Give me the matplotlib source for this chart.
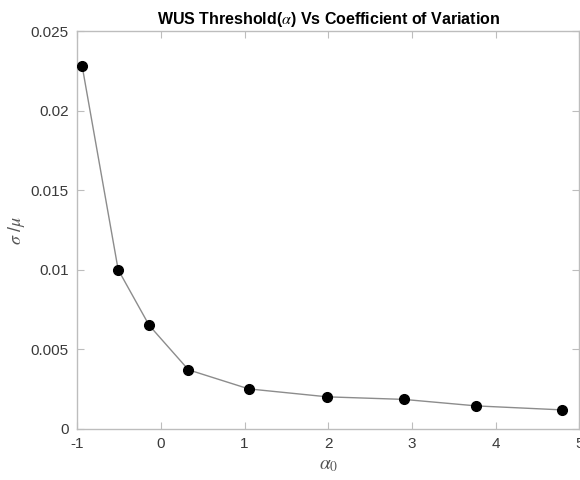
import numpy as np
import matplotlib
matplotlib.use("Agg")
import matplotlib.pyplot as plt

# donnees
alpha0 = [-0.94, -0.51, -0.14, 0.33, 1.05, 1.99, 2.90, 3.77, 4.79]
cv = [0.0228, 0.0100, 0.0065, 0.0037, 0.0025, 0.0020, 0.00184, 0.00143, 0.00118]
xticks = [-1, 0, 1, 2, 3, 4, 5]
yticks = [0, 0.005, 0.01, 0.015, 0.02, 0.025]
ytick_labels = ["0", "0.005", "0.01", "0.015", "0.02", "0.025"]

plt.rcParams['font.family'] = ['Liberation Sans', 'DejaVu Sans']
plt.rcParams['mathtext.fontset'] = 'stix'

fig = plt.figure(figsize=(5.8, 4.8), dpi=100)
ax = fig.add_axes([0.133, 0.107, 0.866, 0.828])

ax.plot(alpha0, cv, '-', color='#8c8c8c', linewidth=1.0, zorder=2)
ax.plot(alpha0, cv, 'o', color='black', markersize=7, zorder=3)

ax.set_xlim(-1, 5)
ax.set_ylim(0, 0.025)
ax.set_xticks(xticks)
ax.set_xticklabels([str(t) for t in xticks])
ax.set_yticks(yticks)
ax.set_yticklabels(ytick_labels)

for s in ax.spines.values():
    s.set_color('#bdbdbd')
    s.set_linewidth(1.0)
ax.tick_params(direction='in', length=5, color='#bdbdbd', labelcolor='#3a3a3a',
               labelsize=11, top=True, right=True, pad=6)

ax.set_xlabel(r'$\alpha_0$', fontsize=14, color='#555555', labelpad=4)
ax.set_ylabel(r'$\sigma$ /$\mu$', fontsize=13, color='#555555', labelpad=3)
ax.set_title(r'WUS Threshold($\alpha$) Vs Coefficient of Variation',
             fontsize=11.5, fontweight='bold', color='black', pad=5)

fig.savefig("out.png", dpi=100)
